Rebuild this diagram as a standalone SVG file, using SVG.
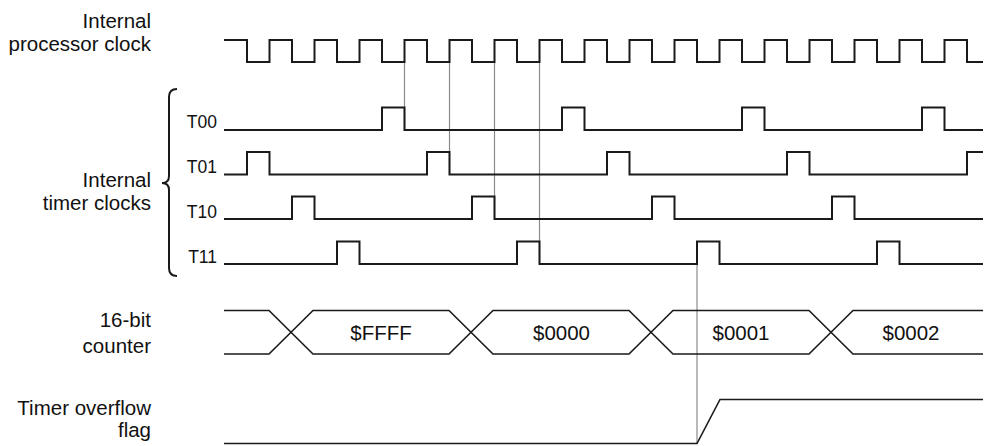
<svg xmlns="http://www.w3.org/2000/svg" width="985" height="446" viewBox="0 0 985 446">
<style>
.lbl{font-family:"Liberation Sans",Arial,sans-serif;font-size:20.5px;fill:#111;text-anchor:end}
.tl{font-family:"Liberation Sans",Arial,sans-serif;font-size:17.5px;fill:#111;text-anchor:end}
.val{font-family:"Liberation Sans",Arial,sans-serif;font-size:20.5px;fill:#111;text-anchor:middle}
.sig{fill:none;stroke:#1a1a1a;stroke-width:2;stroke-linejoin:miter}
.bus{fill:none;stroke:#1a1a1a;stroke-width:1.6}
.guide{fill:none;stroke:#8a8a8a;stroke-width:1.2}
</style>
<rect width="985" height="446" fill="#fff"/>
<g id="labels">
<text class="lbl" x="151" y="28">Internal</text>
<text class="lbl" x="151" y="51">processor clock</text>
<text class="lbl" x="151" y="187">Internal</text>
<text class="lbl" x="151" y="210">timer clocks</text>
<text class="lbl" x="151" y="327">16-bit</text>
<text class="lbl" x="151" y="353">counter</text>
<text class="lbl" x="151" y="415">Timer overflow</text>
<text class="lbl" x="151" y="437">flag</text>
<path class="sig" d="M177 89 Q169 89 169 97 L169 176 Q169 183 162 183 Q169 183 169 190 L169 268 Q169 276 177 276"/>
</g>
<g id="connectors">
<line class="guide" x1="404.5" y1="62" x2="404.5" y2="130"/>
<line class="guide" x1="449.5" y1="62" x2="449.5" y2="174.5"/>
<line class="guide" x1="494.5" y1="62" x2="494.5" y2="219"/>
<line class="guide" x1="539.5" y1="62" x2="539.5" y2="264"/>
<line class="guide" x1="697" y1="264" x2="697" y2="443.5"/>
</g>
<g id="clock">
<path class="sig" d="M224 40 H247 V62 H269.5 V40 H292 V62 H314.5 V40 H337 V62 H359.5 V40 H382 V62 H404.5 V40 H427 V62 H449.5 V40 H472 V62 H494.5 V40 H517 V62 H539.5 V40 H562 V62 H584.5 V40 H607 V62 H629.5 V40 H652 V62 H674.5 V40 H697 V62 H719.5 V40 H742 V62 H764.5 V40 H787 V62 H809.5 V40 H832 V62 H854.5 V40 H877 V62 H899.5 V40 H922 V62 H944.5 V40 H967 V62 H983"/>
</g>
<g id="t00">
<text class="tl" x="217" y="127.5">T00</text>
<path class="sig" d="M224 130 H382 V107.5 H404.5 V130 H562 V107.5 H584.5 V130 H742 V107.5 H764.5 V130 H922 V107.5 H944.5 V130 H983"/>
</g>
<g id="t01">
<text class="tl" x="217" y="172.5">T01</text>
<path class="sig" d="M224 174.5 H247 V152 H269.5 V174.5 H427 V152 H449.5 V174.5 H607 V152 H629.5 V174.5 H787 V152 H809.5 V174.5 H967 V152 H983"/>
</g>
<g id="t10">
<text class="tl" x="217" y="217.5">T10</text>
<path class="sig" d="M224 219 H292 V196.5 H314.5 V219 H472 V196.5 H494.5 V219 H652 V196.5 H674.5 V219 H832 V196.5 H854.5 V219 H983"/>
</g>
<g id="t11">
<text class="tl" x="217" y="262.5">T11</text>
<path class="sig" d="M224 264 H337 V241.5 H359.5 V264 H517 V241.5 H539.5 V264 H697 V241.5 H719.5 V264 H877 V241.5 H899.5 V264 H983"/>
</g>
<g id="counter">
<path class="bus" d="M224 310.5 H269 L313 354 H449 L493 310.5 H629 L673 354 H809 L853 310.5 H983"/>
<path class="bus" d="M224 354 H269 L313 310.5 H449 L493 354 H629 L673 310.5 H809 L853 354 H983"/>
<text class="val" x="381" y="340">$FFFF</text>
<text class="val" x="561.5" y="340">$0000</text>
<text class="val" x="741" y="340">$0001</text>
<text class="val" x="911" y="340">$0002</text>
</g>
<g id="flag">
<path class="bus" d="M224 443.5 H697 L720 399.5 H983"/>
</g>
</svg>
